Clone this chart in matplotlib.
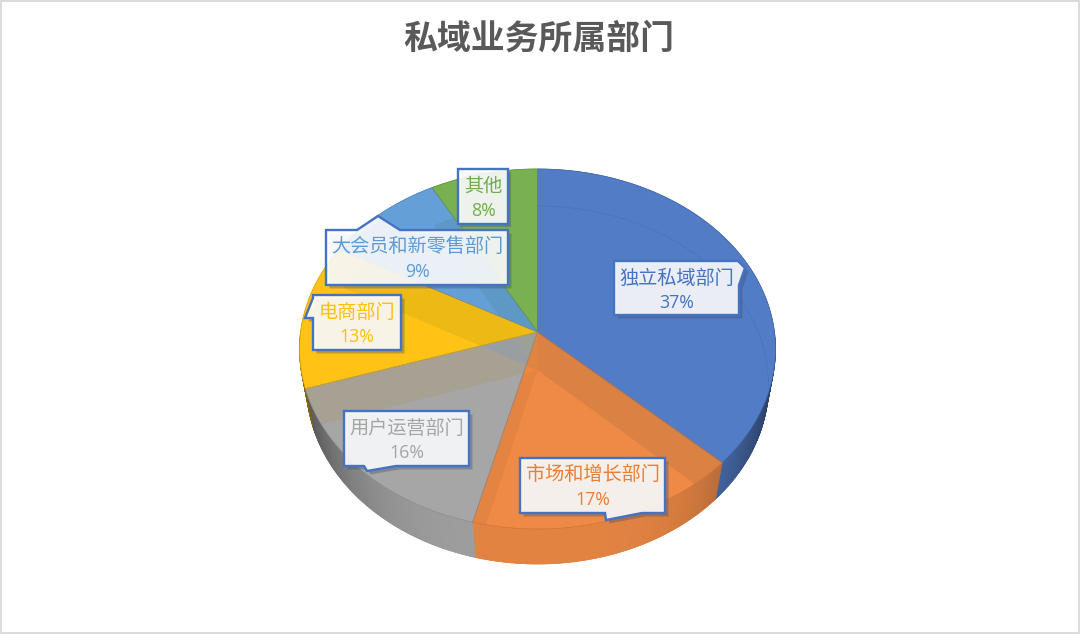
import numpy as np
import matplotlib
matplotlib.use("Agg")
import matplotlib.pyplot as plt
from matplotlib.patches import Polygon, Rectangle
from matplotlib.colors import to_rgb
import matplotlib.patheffects as pe

plt.rcParams['font.family'] = ['Noto Sans CJK SC', 'DejaVu Sans']

title = "私域业务所属部门"
categories = ["独立私域部门", "市场和增长部门", "用户运营部门", "电商部门", "大会员和新零售部门", "其他"]
values = [37, 17, 16, 13, 9, 8]
text_colors = ["#4472c4", "#ed7d31", "#a5a5a5", "#ffc000", "#5b9bd5", "#70ad47"]
face_colors = ["#527dc6", "#ee8a46", "#a6a6a6", "#ffc215", "#659fd8", "#78b052"]

# label callouts: box (x0, x1, y0, y1), pointer polygon points
boxes = [(614, 739, 261, 315), (520, 665, 458, 513), (344, 469, 411, 466),
         (313, 401, 295, 350), (326, 508, 230, 285), (458, 508, 169, 224)]
pointers = [[(739, 262), (745, 268), (739, 285)],
            [(605, 513), (606, 520), (642, 513)],
            [(364, 466), (367, 471), (396, 466)],
            [(313, 298), (305, 318), (313, 318)],
            [(357, 230), (378, 216), (400, 230)],
            None]

TOP = dict(cx=537.5, cy=349.0, rx=238.0, ry=180.0, ay=332.0)
BOT = dict(cx=537.5, cy=385.0, rx=231.0, ry=179.0, ay=370.0)
SEE_THROUGH = 0.125


def project(frac, g):
    """Fraction of the turn (clockwise from 12 o'clock) to a pixel on a perspective ellipse."""
    t = 2 * np.pi * np.asarray(frac, dtype=float)
    b = (g['ay'] - g['cy']) / g['ry']
    u, v = np.sin(t), -np.cos(t)
    d = 1 + b * v
    return g['cx'] + g['rx'] * u * np.sqrt(1 - b * b) / d, g['cy'] + g['ry'] * (v + b) / d


def wedge(f0, f1, g):
    fr = np.linspace(f0, f1, 120)
    x, y = project(fr, g)
    return np.column_stack([np.r_[g['cx'], x], np.r_[g['ay'], y]])


fig = plt.figure(figsize=(10.8, 6.34), dpi=100, facecolor="white")
ax = fig.add_axes([0, 0, 1, 1])
ax.set_xlim(0, 1080)
ax.set_ylim(634, 0)
ax.axis("off")

ax.add_patch(Rectangle((1, 1), 1078, 632, fc="white", ec="#d4d4d4", lw=1.2, zorder=0))

edges = np.cumsum([0] + values) / sum(values)

# bottom faces
for i, c in enumerate(face_colors):
    ax.add_patch(Polygon(wedge(edges[i], edges[i + 1], BOT), closed=True, fc=c, ec=c, lw=0.4, zorder=1))

# outer walls, shaded towards the silhouette
for i, c in enumerate(face_colors):
    fr = np.linspace(edges[i], edges[i + 1], max(6, int(values[i] * 6)))
    tx, ty = project(fr, TOP)
    bx, by = project(fr, BOT)
    base = np.array(to_rgb(c))
    for k in range(len(fr) - 1):
        front = np.cos(2 * np.pi * (fr[k] + fr[k + 1]) / 2) < 0
        u = abs(((tx[k] + tx[k + 1]) / 2 - TOP['cx']) / TOP['rx'])
        shade = (0.95 - 0.45 * u ** 4) if front else 1.0
        col = tuple(base * shade)
        ax.add_patch(Polygon([(tx[k], ty[k]), (tx[k + 1], ty[k + 1]), (bx[k + 1], by[k + 1]), (bx[k], by[k])],
                             closed=True, fc=col, ec=col, lw=0.5, zorder=2))

# top faces, with the lower faces showing through as a slight multiply
for i, c in enumerate(face_colors):
    top_poly = Polygon(wedge(edges[i], edges[i + 1], TOP), closed=True, fc=c, ec="none", zorder=3)
    ax.add_patch(top_poly)
    base = np.array(to_rgb(c))
    for j, c2 in enumerate(face_colors):
        if j == i:
            continue
        mixed = tuple(base * (1 - SEE_THROUGH + SEE_THROUGH * np.array(to_rgb(c2))))
        under = Polygon(wedge(edges[j], edges[j + 1], BOT), closed=True, fc=mixed, ec="none", zorder=3.05)
        ax.add_patch(under)
        under.set_clip_path(top_poly)
    ax.add_patch(Polygon(wedge(edges[i], edges[i + 1], TOP), closed=True, fc="none",
                         ec=tuple(base * 0.85), lw=0.5, zorder=3.2))

# faint rim of the bottom face, seen through the blue slice only
fr = np.linspace(0, 0.27, 120)
rx_, ry_ = project(fr, BOT)
ax.plot(rx_, ry_, color="#3f66ad", lw=0.5, alpha=0.5, zorder=3.3)

# callouts
shadow = [pe.SimplePatchShadow(offset=(2.5, -2.5), shadow_rgbFace="#3a4a6a", alpha=0.35), pe.Normal()]
for name, val, tc, (x0, x1, y0, y1), ptr in zip(categories, values, text_colors, boxes, pointers):
    pts = [(x0, y0), (x1, y0), (x1, y1), (x0, y1)]
    if ptr is not None:
        a = np.array(ptr)
        if a[0][1] == y0 and a[2][1] == y0:          # top edge
            pts = [(x0, y0)] + ptr + [(x1, y0), (x1, y1), (x0, y1)]
        elif a[0][0] == x1:                          # right edge
            pts = [(x0, y0), (x1, y0)] + ptr + [(x1, y1), (x0, y1)]
        elif a[0][1] == y1:                          # bottom edge
            pts = [(x0, y0), (x1, y0), (x1, y1)] + ptr[::-1] + [(x0, y1)]
        else:                                        # left edge
            pts = [(x0, y0), (x1, y0), (x1, y1), (x0, y1)] + ptr[::-1]
    ax.add_patch(Polygon(pts, closed=True, fc=(1, 1, 1, 0.89), ec="#4472c4", lw=1.7, joinstyle="miter",
                         path_effects=shadow, zorder=5))
    xc = (x0 + x1) / 2
    ax.text(xc, y0 + 17, name, color=tc, fontsize=13.8, ha="center", va="center", zorder=6)
    ax.text(xc, y0 + 42, f"{val}%", color=tc, fontsize=12.8, ha="center", va="center", zorder=6,
            family=['Open Sans', 'DejaVu Sans'])

ax.text(539, 38, title, color="#595959", fontsize=24.4, fontweight="bold", ha="center", va="center", zorder=6)

fig.savefig("out.png", dpi=100, facecolor="white")
